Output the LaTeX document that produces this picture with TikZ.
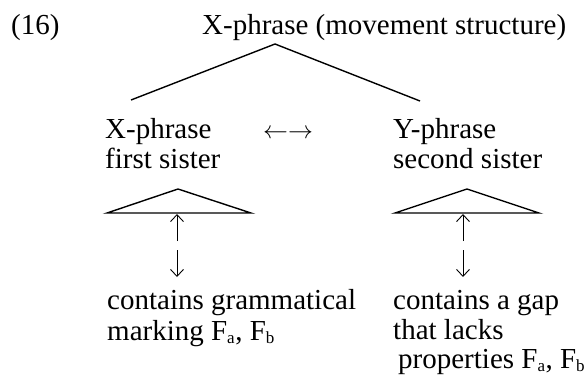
\documentclass[tikz,border=0pt]{standalone}
\usepackage{fontspec}
\setmainfont{Liberation Serif}
\usetikzlibrary{arrows.meta}
\begin{document}
\begin{tikzpicture}[x=1pt,y=-1pt,
  txt/.style={inner sep=0pt,anchor=base west,font=\fontsize{29}{33}\selectfont},
  edge/.style={line width=1.4pt},
  tri/.style={line width=1.4pt,line join=miter},
  vlink/.style={line width=0.9pt,-{Straight Barb[length=7pt,width=13pt,line width=0.9pt]}}]
\useasboundingbox (0,0) rectangle (587,383);
\node[txt] (num) at (11,34) {(16)};
\node[txt] (title) at (202,34) {X-phrase (movement structure)};
\coordinate (apex) at (275,44);
\coordinate (lend) at (131,100);
\coordinate (rend) at (420,101);
\draw[edge] (lend) -- (apex) -- (rend);
% daughters
\node[txt] (x1) at (105,138) {X-phrase};
\node[txt] (x2) at (105,168) {first sister};
\node[txt] (dbl) at (263,138) {$\leftarrow\rightarrow$};
\node[txt] (y1) at (393,138) {Y-phrase};
\node[txt] (y2) at (393,168) {second sister};
% triangles
\coordinate (tlA) at (107,213); \coordinate (tlB) at (178,189); \coordinate (tlC) at (251,213);
\coordinate (trA) at (395,213); \coordinate (trB) at (467,189); \coordinate (trC) at (539,213);
\draw[tri] (tlA) -- (tlB) -- (tlC) -- cycle;
\draw[tri] (trA) -- (trB) -- (trC) -- cycle;
% arrows
\coordinate (luS) at (177,241); \coordinate (luE) at (177,214);
\coordinate (ldS) at (177,250); \coordinate (ldE) at (177,277);
\coordinate (ruS) at (463,241); \coordinate (ruE) at (463,214);
\coordinate (rdS) at (463,250); \coordinate (rdE) at (463,277);
\draw[vlink] (luS) -- (luE);
\draw[vlink] (ldS) -- (ldE);
\draw[vlink] (ruS) -- (ruE);
\draw[vlink] (rdS) -- (rdE);
% bottom texts
\node[txt] (c1) at (107,309) {contains grammatical};
\node[txt] (c2) at (107,340) {marking F\textsubscript{\fontsize{17}{17}\selectfont a}, F\textsubscript{\fontsize{17}{17}\selectfont b}};
\node[txt] (d1) at (393,309) {contains a gap};
\node[txt] (d2) at (393,339) {that lacks};
\node[txt] (d3) at (398,368) {properties F\textsubscript{\fontsize{17}{17}\selectfont a}, F\textsubscript{\fontsize{17}{17}\selectfont b}};
\end{tikzpicture}
\end{document}
